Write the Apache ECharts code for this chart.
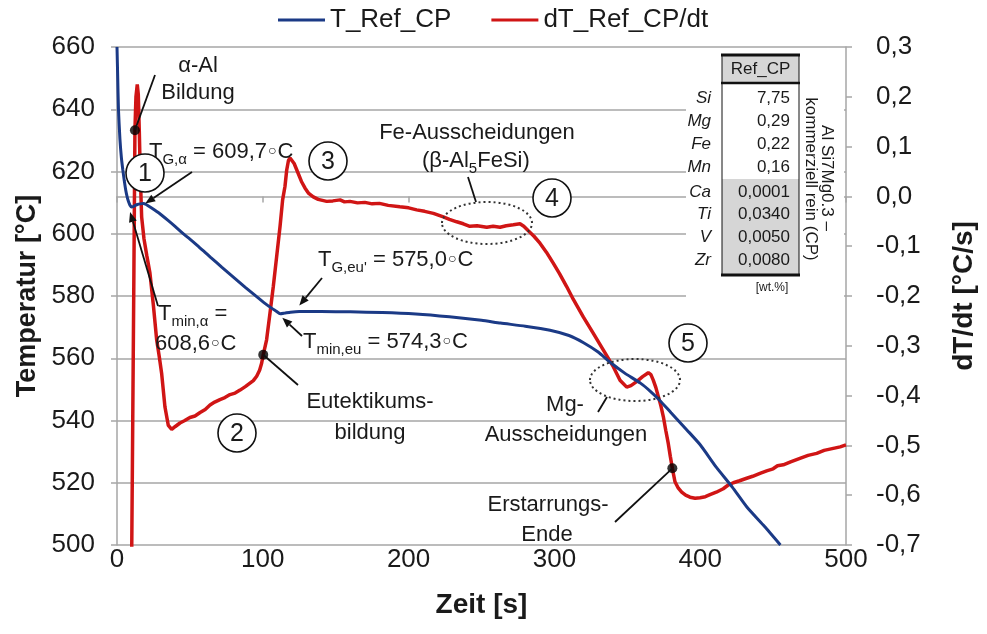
<!DOCTYPE html>
<html>
<head>
<meta charset="utf-8">
<script src="https://cdn.jsdelivr.net/npm/echarts@6/dist/echarts.min.js"></script>
<style>
  html, body { margin: 0; padding: 0; background: #fff; }
  #chart { width: 987px; height: 634px; }
</style>
</head>
<body>
<div id="chart"></div>
<script>
// Abkühlkurve: Zeit [s] und Temperatur [°C]
const tempTime = [0, 0.5, 1, 2, 3, 4, 5, 6, 7, 8, 9, 10, 11, 12, 14, 16, 18, 20, 24, 29, 35, 40, 45, 50, 55, 60, 64, 72, 80, 88, 96, 101, 106, 109, 112, 115, 119, 125, 140, 160, 182, 205, 228, 250, 263, 280, 297, 310, 320, 330, 338, 348, 359, 366, 372, 380, 391, 400, 411, 422, 432, 444, 455];
const tempValue = [660, 650, 640, 630.5, 624.5, 620.5, 617, 614, 611.8, 610.2, 609.1, 608.6, 608.7, 609.0, 609.4, 609.6, 609.7, 609.4, 608.2, 606.6, 604.3, 602.3, 600.2, 598.3, 596.3, 594.2, 592.5, 589.2, 586.0, 582.8, 579.7, 577.8, 576.1, 575.2, 574.3, 574.5, 574.8, 575.0, 575.0, 574.9, 574.7, 574.2, 573.3, 572.2, 571.3, 570.3, 569.0, 567.3, 565.0, 562.0, 558.8, 555.3, 552.0, 549.3, 546.6, 542.5, 536.9, 532.2, 525.0, 518.6, 512.2, 506.0, 500.0];

// Abkühlrate dT/dt [°C/s]
const rateTime = [10.0, 10.8, 11.6, 12.3, 13.0, 13.9, 14.6, 15.3, 16.0, 16.9, 18.5, 20.5, 22.6, 25.0, 27.2, 29.0, 30.6, 32.9, 35.2, 37.5, 40.0, 43.2, 46.5, 50.0, 53.5, 57.0, 60.5, 63.8, 67.0, 70.6, 74.0, 77.5, 81.0, 84.4, 88.0, 91.2, 93.5, 95.8, 97.8, 99.2, 100.3, 102.6, 104.9, 107.2, 109.5, 111.8, 113.6, 115.2, 116.4, 117.6, 118.7, 120.0, 121.5, 124.3, 126.5, 128.9, 131.5, 134.6, 138.0, 143.8, 148.0, 153.0, 156.0, 159.8, 165.0, 170.0, 175.0, 180.0, 186.0, 194.0, 200.0, 205.5, 211.0, 217.0, 223.8, 228.0, 233.0, 237.5, 242.0, 247.0, 253.6, 258.0, 262.7, 267.0, 271.8, 276.4, 279.0, 282.1, 286.0, 290.1, 294.5, 299.2, 303.5, 308.4, 313.0, 319.8, 326.7, 333.5, 340.4, 345.0, 349.6, 352.5, 356.4, 360.5, 364.4, 366.2, 367.8, 369.6, 371.3, 373.0, 374.7, 376.4, 378.1, 379.5, 380.9, 382.7, 385.0, 387.3, 390.0, 393.0, 396.5, 399.9, 403.5, 406.7, 411.0, 415.8, 419.0, 422.7, 427.0, 431.9, 436.0, 441.0, 445.6, 450.0, 453.0, 457.0, 462.0, 468.4, 474.0, 479.9, 485.0, 491.3, 496.0, 500.0];
const rateValue = [-0.75, -0.45, -0.15, 0.133, 0.20, 0.225, 0.205, 0.13, 0.04, -0.041, -0.085, -0.12, -0.154, -0.22, -0.288, -0.322, -0.355, -0.423, -0.460, -0.468, -0.462, -0.455, -0.450, -0.444, -0.441, -0.434, -0.428, -0.419, -0.413, -0.408, -0.404, -0.398, -0.395, -0.389, -0.382, -0.375, -0.370, -0.361, -0.349, -0.335, -0.318, -0.288, -0.235, -0.181, -0.121, -0.061, -0.007, 0.020, 0.053, 0.072, 0.077, 0.074, 0.066, 0.046, 0.030, 0.017, 0.006, -0.001, -0.006, -0.010, -0.009, -0.007, -0.011, -0.010, -0.013, -0.012, -0.015, -0.014, -0.018, -0.021, -0.023, -0.027, -0.030, -0.034, -0.041, -0.046, -0.051, -0.055, -0.060, -0.059, -0.062, -0.060, -0.062, -0.059, -0.057, -0.055, -0.060, -0.069, -0.080, -0.094, -0.112, -0.134, -0.155, -0.181, -0.207, -0.242, -0.275, -0.308, -0.342, -0.369, -0.383, -0.380, -0.372, -0.362, -0.354, -0.358, -0.369, -0.384, -0.402, -0.420, -0.442, -0.470, -0.496, -0.522, -0.546, -0.573, -0.586, -0.594, -0.600, -0.604, -0.606, -0.605, -0.603, -0.599, -0.594, -0.587, -0.580, -0.575, -0.571, -0.566, -0.562, -0.556, -0.551, -0.547, -0.541, -0.539, -0.533, -0.526, -0.520, -0.516, -0.510, -0.506, -0.503, -0.499];

// Kennpunkte auf der Ratenkurve: α-Al Bildung, Eutektikumsbildung, Erstarrungsende
const markerTime = [12.3, 100.3, 380.9];
const markerRate = [0.133, -0.318, -0.546];

// Kennpunkte auf der Temperaturkurve: T_G,α, T_min,α, T_G,eu', T_min,eu
const keyTime = [18, 10, 125, 112];
const keyTemp = [609.7, 608.6, 575.0, 574.3];

// Legierungszusammensetzung Ref_CP [wt.%]
const tableElements = ['Si', 'Mg', 'Fe', 'Mn', 'Ca', 'Ti', 'V', 'Zr'];
const tableValues = ['7,75', '0,29', '0,22', '0,16', '0,0001', '0,0340', '0,0050', '0,0080'];

const FONT = '"Liberation Sans", Arial, Helvetica, sans-serif';
const INK = '#1a1a1a';
const GRID = '#a6a6a6';
const BLUE = '#1b3a86';
const RED = '#d01515';

const chart = echarts.init(document.getElementById('chart'), null, { renderer: 'canvas' });

const option = {
  animation: false,
  textStyle: { fontFamily: FONT },
  legend: {
    data: ['T_Ref_CP', 'dT_Ref_CP/dt'],
    left: 278, top: 7, padding: 0,
    icon: 'rect', itemWidth: 47, itemHeight: 3, itemGap: 40,
    textStyle: { fontSize: 26, color: INK, fontFamily: FONT }
  },
  grid: { left: 117, right: 141, top: 47, bottom: 89, outerBoundsMode: 'none' },
  xAxis: {
    type: 'value', min: 0, max: 500, interval: 100,
    axisLine: { show: true, lineStyle: { color: GRID, width: 1.5 } },
    axisTick: { show: true, length: 6, lineStyle: { color: GRID, width: 1.5 } },
    axisLabel: { fontSize: 26, color: INK, margin: 2, fontFamily: FONT },
    splitLine: { show: false },
    name: 'Zeit [s]', nameLocation: 'middle', nameGap: 46,
    nameTextStyle: { fontSize: 28, fontWeight: 'bold', color: INK, fontFamily: FONT }
  },
  yAxis: [
    {
      type: 'value', min: 500, max: 660, interval: 20, position: 'left',
      axisLine: { show: true, lineStyle: { color: GRID, width: 1.5 } },
      axisTick: { show: true, length: 6, lineStyle: { color: GRID, width: 1.5 } },
      axisLabel: { fontSize: 26, color: INK, margin: 22, fontFamily: FONT },
      splitLine: { show: true, lineStyle: { color: GRID, width: 1.5 } },
      name: 'Temperatur [°C]', nameLocation: 'middle', nameGap: 74, nameRotate: 90,
      nameTextStyle: { fontSize: 27, fontWeight: 'bold', color: INK, fontFamily: FONT }
    },
    {
      type: 'value', min: -0.7, max: 0.3, interval: 0.1, position: 'right',
      axisLine: { show: true, lineStyle: { color: GRID, width: 1.5 } },
      axisTick: { show: true, length: 6, lineStyle: { color: GRID, width: 1.5 } },
      axisLabel: {
        fontSize: 26, color: INK, margin: 30, fontFamily: FONT,
        formatter: function (v) {
          const r = Math.round(v * 10) / 10;
          return (r === 0 ? 0 : r).toFixed(1).replace('.', ',');
        }
      },
      splitLine: { show: false },
      name: 'dT/dt [°C/s]', nameLocation: 'middle', nameGap: 104, nameRotate: 90,
      nameTextStyle: { fontSize: 28, fontWeight: 'bold', color: INK, fontFamily: FONT }
    }
  ],
  series: [
    {
      name: 'T_Ref_CP', type: 'line', yAxisIndex: 0,
      data: tempTime.map((t, i) => [t, tempValue[i]]),
      symbol: 'none', showSymbol: false, smooth: 0.2, clip: true,
      lineStyle: { color: BLUE, width: 3 }, itemStyle: { color: BLUE }, z: 3
    },
    {
      name: 'dT_Ref_CP/dt', type: 'line', yAxisIndex: 1,
      data: rateTime.map((t, i) => [t, rateValue[i]]),
      symbol: 'none', showSymbol: false, clip: true,
      lineStyle: { color: RED, width: 3.5 }, itemStyle: { color: RED }, z: 2
    },
    {
      type: 'scatter', yAxisIndex: 1, silent: true,
      data: markerTime.map((t, i) => [t, markerRate[i]]),
      symbolSize: 10, itemStyle: { color: '#000' }, z: 8
    }
  ]
};
chart.setOption(option);

// ---- Beschriftungen, Pfeile und Tabelle ----
const meas = document.createElement('canvas').getContext('2d');
function textWidth(str, size) { meas.font = size + 'px ' + FONT; return meas.measureText(str).width; }

const els = [];
function text(str, x, y, size, opts) {
  opts = opts || {};
  els.push({
    type: 'text', x: x, y: y, z: 20, rotation: opts.rotation || 0,
    style: {
      text: str, fill: opts.fill || INK,
      font: (opts.italic ? 'italic ' : '') + size + 'px ' + FONT,
      align: opts.align || 'center', verticalAlign: 'middle'
    }
  });
}
// Textstücke: 0 = normal, 1 = tiefgestellt, 2 = Gradkreis
function subText(x, yc, parts) {
  let cx = x;
  parts.forEach(function (p) {
    if (p[1] === 2) {
      text('○', cx + 1, yc - 1, 14, { align: 'left' });
      cx += textWidth('○', 14) + 2;
      return;
    }
    const size = p[1] ? 15 : 22;
    text(p[0], cx, p[1] ? yc + 8 : yc, size, { align: 'left' });
    cx += textWidth(p[0], size);
  });
}
function line(x1, y1, x2, y2, w) {
  els.push({ type: 'line', z: 20, shape: { x1: x1, y1: y1, x2: x2, y2: y2 },
    style: { stroke: '#111', lineWidth: w || 1.8 } });
}
function arrow(x1, y1, x2, y2) {
  const a = Math.atan2(y2 - y1, x2 - x1), L = 10, W = 4;
  const bx = x2 - L * Math.cos(a), by = y2 - L * Math.sin(a);
  line(x1, y1, bx, by);
  els.push({ type: 'polygon', z: 20, shape: { points: [
    [x2, y2], [bx + W * Math.sin(a), by - W * Math.cos(a)], [bx - W * Math.sin(a), by + W * Math.cos(a)]
  ] }, style: { fill: '#111' } });
}
function numCircle(n, cx, cy) {
  els.push({ type: 'circle', z: 18, shape: { cx: cx, cy: cy, r: 19 },
    style: { fill: '#fff', stroke: '#111', lineWidth: 1.6 } });
  text(String(n), cx, cy + 1, 25);
}
function dottedEllipse(cx, cy, rx, ry) {
  els.push({ type: 'ellipse', z: 18, shape: { cx: cx, cy: cy, rx: rx, ry: ry },
    style: { fill: null, stroke: '#333', lineWidth: 2, lineDash: [2, 3] } });
}

const tPx = keyTime.map((t, i) => chart.convertToPixel({ seriesIndex: 0 }, [t, keyTemp[i]]));
const mPx = markerTime.map((t, i) => chart.convertToPixel({ seriesIndex: 1 }, [t, markerRate[i]]));

// Fläche der Legierungstabelle (überdeckt die Gitterlinien)
els.push({ type: 'rect', z: 5, shape: { x: 686, y: 50, width: 158, height: 250 }, style: { fill: '#fff' } });

// α-Al Bildung
text('α-Al', 198, 66, 22);
text('Bildung', 198, 93, 22);
line(155, 75, mPx[0][0], mPx[0][1]);

// T_G,α
subText(149, 152, [['T', 0], ['G,α', 1], [' = 609,7', 0], ['', 2], ['C', 0]]);
arrow(192, 172, tPx[0][0] + 2, tPx[0][1]);

// T_min,α
subText(158, 314, [['T', 0], ['min,α', 1], [' =', 0]]);
subText(155, 344, [['608,6', 0], ['', 2], ['C', 0]]);
arrow(158, 306, tPx[1][0] - 1.5, tPx[1][1] + 5);

// T_G,eu'
subText(318, 260, [['T', 0], ["G,eu'", 1], [' = 575,0', 0], ['', 2], ['C', 0]]);
arrow(322, 278, tPx[2][0], tPx[2][1] - 6);

// T_min,eu
subText(303, 342, [['T', 0], ['min,eu', 1], [' = 574,3', 0], ['', 2], ['C', 0]]);
arrow(302, 336, tPx[3][0] + 2, tPx[3][1] + 4);

// Eutektikumsbildung
text('Eutektikums-', 370, 402, 22);
text('bildung', 370, 433, 22);
line(mPx[1][0], mPx[1][1], 298, 385);

// Fe-Ausscheidungen
text('Fe-Ausscheidungen', 477, 133, 22);
subText(422, 161, [['(β-Al', 0], ['5', 1], ['FeSi)', 0]]);
line(468, 177, 476, 202);
dottedEllipse(487, 223, 45, 21);

// Mg-Ausscheidungen
text('Mg-', 565, 405, 22);
text('Ausscheidungen', 566, 435, 22);
line(598, 412, 607, 397);
dottedEllipse(635, 380, 45, 21);

// Erstarrungsende
text('Erstarrungs-', 548, 505, 22);
text('Ende', 547, 535, 22);
line(615, 522, mPx[2][0], mPx[2][1]);

// Phasennummern
numCircle(1, 145, 173);
numCircle(2, 237, 433);
numCircle(3, 328, 161);
numCircle(4, 552, 198);
numCircle(5, 688, 343);

// Tabelle
const tx0 = 722, tx1 = 799, ty0 = 55, tyH = 83, ty1 = 275;
const rowY = [98, 121, 144, 167, 192, 214, 237, 260];
els.push({ type: 'rect', z: 10, shape: { x: tx0, y: ty0, width: tx1 - tx0, height: tyH - ty0 }, style: { fill: '#d6d6d6' } });
els.push({ type: 'rect', z: 10, shape: { x: tx0, y: 179, width: tx1 - tx0, height: ty1 - 179 }, style: { fill: '#d6d6d6' } });
line(tx0, ty0, tx0, ty1, 1);
line(tx1, ty0, tx1, ty1, 1);
line(tx0 - 1, ty0, tx1 + 1, ty0, 3);
line(tx0 - 1, tyH, tx1 + 1, tyH, 2.5);
line(tx0 - 1, ty1, tx1 + 1, ty1, 3);
text('Ref_CP', (tx0 + tx1) / 2, 69, 17);
tableElements.forEach(function (el, i) {
  text(el, 711, rowY[i], 17, { align: 'right', italic: true });
  text(tableValues[i], 790, rowY[i], 17, { align: 'right' });
});
text('[wt.%]', 772, 288, 12);
text('Al Si7Mg0.3 –', 827, 178, 17, { rotation: -Math.PI / 2 });
text('kommerziell rein (CP)', 811, 179, 17, { rotation: -Math.PI / 2 });

chart.setOption({ graphic: { elements: els } });
</script>
</body>
</html>
